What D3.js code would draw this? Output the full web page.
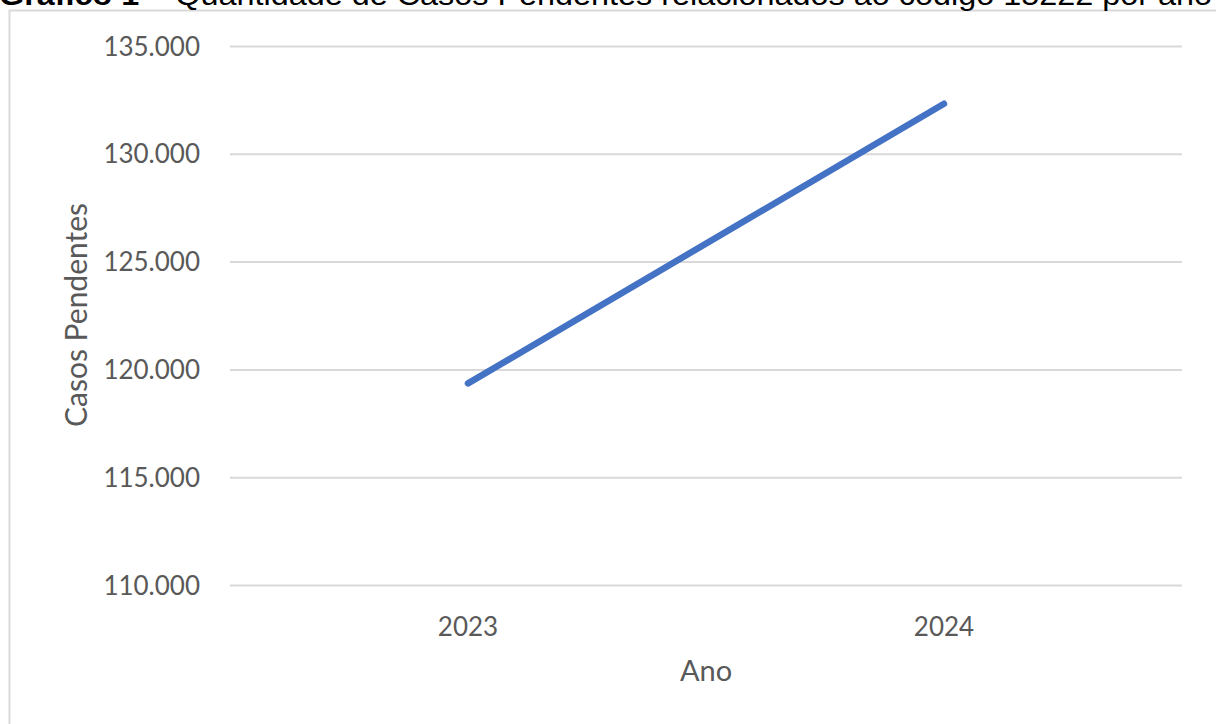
<!DOCTYPE html>
<html><head><meta charset="utf-8">
<script src="https://cdn.jsdelivr.net/npm/d3@7"></script>
<style>
html,body{margin:0;padding:0;background:#fff;overflow:hidden;}
svg{display:block;}
</style></head>
<body>
<svg id="chart" width="1216" height="724"></svg>
<script>
const categories = ["2023", "2024"];
const casosPendentes = [119350, 132320];
const yTicks = [110000, 115000, 120000, 125000, 130000, 135000];
const titleBold = "Gráfico 1";
const titleRest = " – Quantidade de Casos Pendentes relacionados ao código 15222 por ano";
const yTitle = "Casos Pendentes";
const xTitle = "Ano";

const svg = d3.select("#chart");
const plot = {left: 230, right: 1182, top: 46, bottom: 585};

// chart border
svg.append("rect").attr("x", 9.5).attr("y", 10.5).attr("width", 1220).attr("height", 730)
  .attr("fill", "#fff").attr("stroke", "#d9d9d9").attr("stroke-width", 2);

// title (clipped at top, as in the reference)
const t = svg.append("text").attr("x", -1).attr("y", 5)
  .attr("font-family", "Liberation Sans, Arial, sans-serif").attr("font-size", 30).attr("fill", "#000");
t.append("tspan").attr("font-weight", "bold").text(titleBold);
t.append("tspan").text(titleRest);
const tw = t.node().getComputedTextLength();
t.attr("textLength", 1213).attr("lengthAdjust", "spacingAndGlyphs");

const x = d3.scaleBand().domain(categories).range([plot.left, plot.right]);
const y = d3.scaleLinear().domain([110000, 135000]).range([plot.bottom, plot.top]);

const fmt = v => d3.format(",")(v).replace(/,/g, ".");
const font = "Lato, 'Open Sans', sans-serif";

// gridlines via axis
const grid = svg.append("g").attr("transform", `translate(${plot.left},0)`)
  .call(d3.axisRight(y).tickValues(yTicks).tickSize(plot.right - plot.left).tickFormat(""));
grid.select(".domain").remove();
grid.selectAll("line").attr("stroke", "#d9d9d9").attr("stroke-width", 2);

// y labels
const ya = svg.append("g").attr("transform", `translate(${plot.left - 30},0)`)
  .call(d3.axisLeft(y).tickValues(yTicks).tickSize(0).tickPadding(0).tickFormat(fmt));
ya.select(".domain").remove();
ya.selectAll("text").attr("font-family", font).attr("font-size", 26).attr("fill", "#595959").attr("dy", "0.35em");

// x labels
const xa = svg.append("g").attr("transform", `translate(0,${plot.bottom + 42})`)
  .call(d3.axisBottom(x).tickSize(0).tickPadding(0));
xa.select(".domain").remove();
xa.selectAll("text").attr("font-family", font).attr("font-size", 26).attr("fill", "#595959").attr("dy", "0.35em");

// line
const line = d3.line().x((d, i) => x(categories[i]) + x.bandwidth() / 2).y(d => y(d));
svg.append("path").datum(casosPendentes).attr("d", line)
  .attr("fill", "none").attr("stroke", "#4472C4").attr("stroke-width", 6.5)
  .attr("stroke-linecap", "round").attr("stroke-linejoin", "round");

// axis titles
svg.append("text").attr("x", 706).attr("y", 671).attr("text-anchor", "middle").attr("dy", "0.35em")
  .attr("font-family", font).attr("font-size", 29).attr("fill", "#595959").text(xTitle);
svg.append("text").attr("transform", "translate(76,315) rotate(-90)").attr("text-anchor", "middle").attr("dy", "0.35em")
  .attr("font-family", font).attr("font-size", 30).attr("fill", "#595959").text(yTitle);
</script>
</body></html>
